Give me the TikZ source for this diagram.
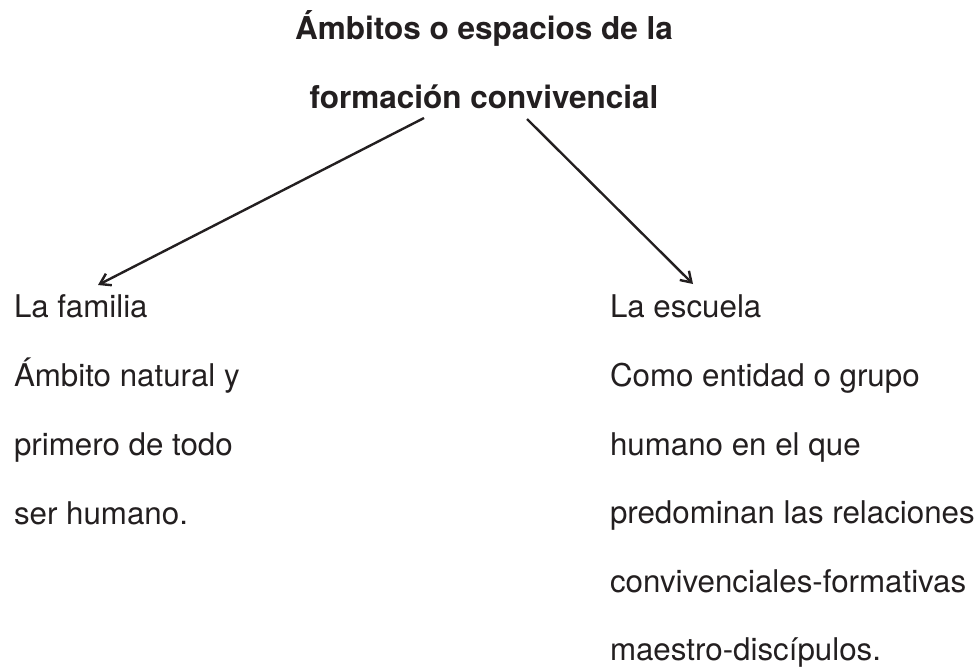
\documentclass[tikz,border=0pt]{standalone}
\usepackage{fontspec}
\setmainfont{TeX Gyre Heros}
\usetikzlibrary{arrows.meta}
\definecolor{ink}{HTML}{231F20}
\begin{document}
\begin{tikzpicture}[x=1pt,y=-1pt,
  every node/.style={inner sep=0pt,outer sep=0pt,text=ink},
  titletxt/.style={anchor=base,font=\fontsize{31.5}{38}\selectfont\bfseries},
  bodytxt/.style={anchor=base west,font=\fontsize{31.3}{38}\selectfont},
  arrowline/.style={draw=ink,line width=2.4pt,-{Straight Barb[length=10pt,width=13pt,line width=2.4pt]}}]
\useasboundingbox (0,0) rectangle (980,670);
\node[titletxt] (t1) at (484,39) {Ámbitos o espacios de la};
\node[titletxt] (t2) at (484,108) {formación convivencial};
\node[bodytxt] (l1) at (14,317) {La familia};
\node[bodytxt] (l2) at (14,386) {Ámbito natural y};
\node[bodytxt] (l3) at (14,455) {primero de todo};
\node[bodytxt] (l4) at (14,524) {ser humano.};
\node[bodytxt] (r1) at (610,317) {La escuela};
\node[bodytxt] (r2) at (610,386) {Como entidad o grupo};
\node[bodytxt] (r3) at (610,455) {humano en el que};
\node[bodytxt] (r4) at (610,523) {predominan las relaciones};
\node[bodytxt] (r5) at (610,592) {convivenciales-formativas};
\node[bodytxt] (r6) at (610,660) {maestro-discípulos.};
\coordinate (ls) at (424,118);
\coordinate (le) at (98,285);
\coordinate (rs) at (527,119);
\coordinate (re) at (693,284);
\draw[arrowline] (ls) -- (le);
\draw[arrowline] (rs) -- (re);
\end{tikzpicture}
\end{document}
